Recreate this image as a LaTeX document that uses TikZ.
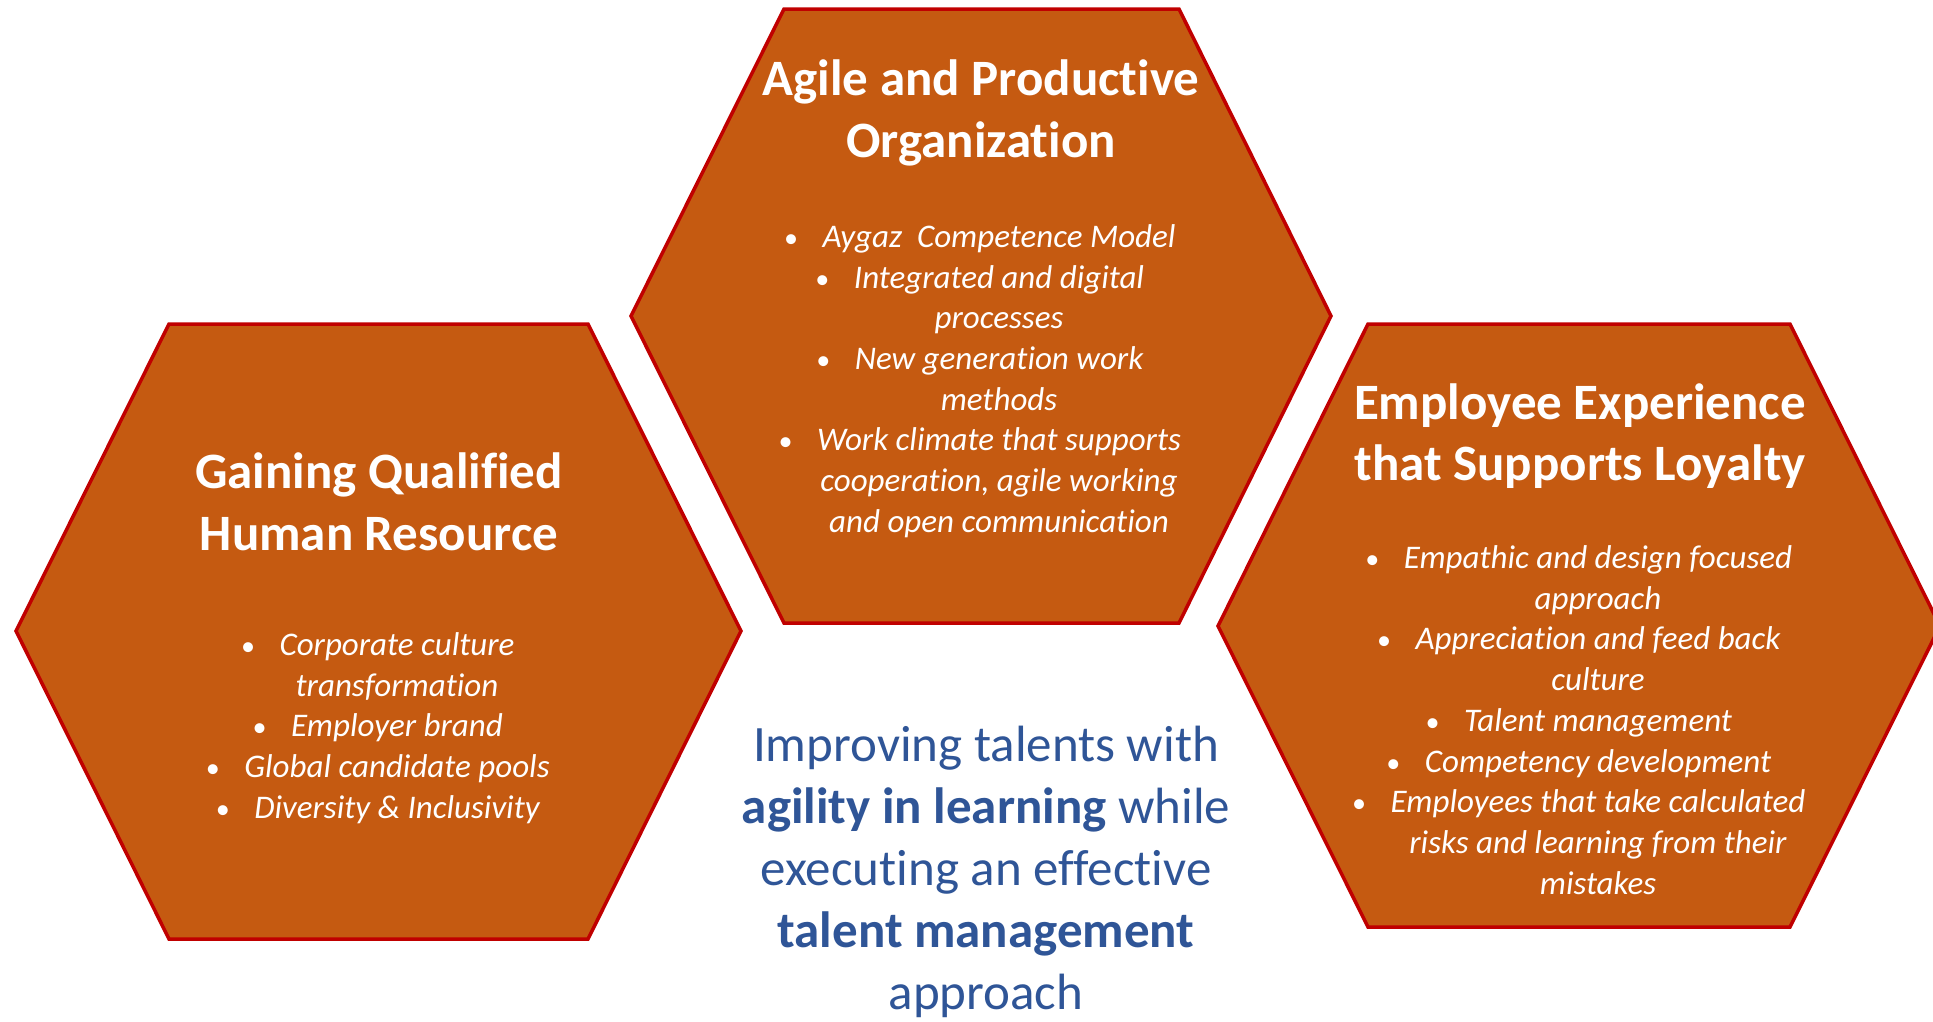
\documentclass[tikz,border=0pt]{standalone}
\usepackage{fontspec}
\setmainfont{Carlito}[Ligatures=NoCommon]
\usetikzlibrary{positioning}
\definecolor{hexorange}{HTML}{C55A11}
\definecolor{hexred}{HTML}{C00000}
\definecolor{textblue}{HTML}{2F5597}
\newcommand{\bul}{\llap{{\fontsize{28}{28}\selectfont\textbullet}\hspace{0.75em}}}

\begin{document}
\begin{tikzpicture}[x=1pt, y=-1pt,
    hexa/.style={fill=hexorange, draw=hexred, line width=3.5pt},
    heading/.style={white, align=center, inner sep=0pt, font=\fontsize{51}{61.5}\selectfont\bfseries},
    items/.style={white, align=center, inner sep=0pt, font=\fontsize{33}{40.7}\selectfont\itshape}]
    \useasboundingbox (0,0) rectangle (1933,1021);

    % the three hexagons
    \draw[hexa] (169,324) -- (588,324) -- (741,631) -- (588,939) -- (169,939) -- (16,631) -- cycle;
    \draw[hexa] (784,9) -- (1179,9) -- (1331,316) -- (1179,623) -- (784,623) -- (631,316) -- cycle;
    \draw[hexa] (1368,324) -- (1790,324) -- (1940,626) -- (1790,927) -- (1368,927) -- (1218,626) -- cycle;

    % left: recruiting
    \node[heading] (hrtitle) at (379,502) {Gaining Qualified\\Human Resource};
    \node[items] (hritems) at (397,728) {\bul Corporate culture\\transformation\\\bul Employer brand\\\bul Global candidate pools\\\bul Diversity \& Inclusivity};

    % top: organization
    \node[heading] (orgtitle) at (981,113) {Agile and Productive\\Organization};
    \node[items] (orgitems) at (999,381) {\bul Aygaz~ Competence Model\\\bul Integrated and digital\\processes\\\bul New generation work\\methods\\\bul Work climate that supports\\cooperation, agile working\\and open communication};

    % right: experience
    \node[heading] (extitle) at (1580,436) {Employee Experience\\that Supports Loyalty};
    \node[items] (exitems) at (1598,720) {\bul Empathic and design focused\\approach\\\bul Appreciation and feed back\\culture\\\bul Talent management\\\bul Competency development\\\bul Employees that take calculated\\risks and learning from their\\mistakes};

    % centre statement
    \node[textblue, align=center, inner sep=0pt, font=\fontsize{51}{62}\selectfont] (motto) at (986,872) {Improving talents with\\\textbf{agility in learning} while\\executing an effective\\\textbf{talent management}\\approach};
\end{tikzpicture}
\end{document}
